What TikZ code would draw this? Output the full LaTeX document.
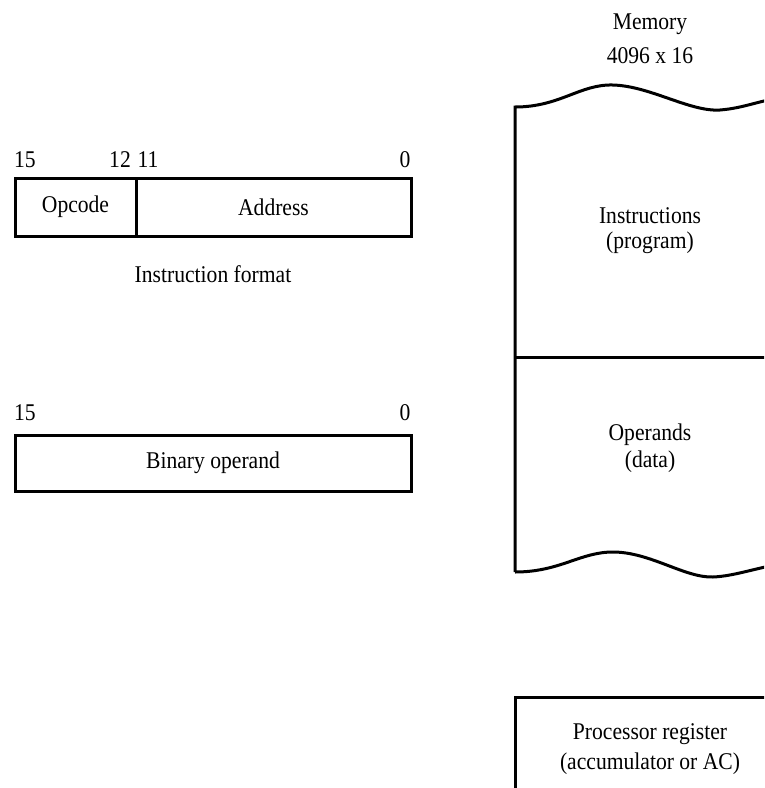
\documentclass[tikz,border=0pt]{standalone}
\usepackage{fontspec}
\setmainfont{Liberation Serif}[FakeStretch=0.9]
\begin{document}
\begin{tikzpicture}[x=1pt,y=-1pt,line width=3pt,
  every node/.style={font=\fontsize{24}{28}\selectfont, inner sep=0pt, outer sep=0pt},
  field/.style={draw, line width=3pt},
  bitnum/.style={anchor=center}]
\useasboundingbox (0,0) rectangle (764,788);
\begin{scope}
\clip (0,0) rectangle (764,788);
% instruction format
\node[field, minimum width=121pt, minimum height=58pt] (op) at (75.5,207) {Opcode};
\node[field, minimum width=275pt, minimum height=58pt] (ad) at (273.5,207) {Address};
\node[bitnum] (b15) at (25,160) {15};
\node[bitnum] (b12) at (120,160) {12};
\node[bitnum] (b11) at (148,160) {11};
\node[bitnum] (b0) at (405,160) {0};
\node (ifmt) at (213,274) {Instruction format};
% binary operand
\node[field, minimum width=396pt, minimum height=56pt] (bin) at (213,463) {Binary operand};
\node[bitnum] (c15) at (25,413) {15};
\node[bitnum] (c0) at (405,413) {0};
% memory
\node (mem) at (650,24) {Memory};
\node (memsz) at (650,56) {4096 x 16};
\coordinate (mtl) at (515,107);
\coordinate (mbl) at (515,572);
\draw (mbl) -- (mtl)
  .. controls (560,107) and (580,84) .. (613,85)
  .. controls (650,86) and (690,112) .. (720,110)
  .. controls (745,108) and (760,100) .. (790,96);
\draw (mbl)
  .. controls (560,572) and (580,552) .. (613,552)
  .. controls (650,552) and (685,578) .. (713,577)
  .. controls (735,576) and (755,568) .. (790,562);
\coordinate (dl) at (515,357);
\coordinate (dr) at (790,357);
\draw (dl) -- (dr);
\node (instr) at (650,216) {Instructions};
\node (prog) at (650,243) {(program)};
\node (opnd) at (650,435) {Operands};
\node (data) at (650,462) {(data)};
% processor register
\node[draw, line width=3pt, minimum width=300pt, minimum height=150pt, anchor=north west] (reg) at (515,697) {};
\node (preg) at (650,734) {Processor register};
\node (acc) at (650,764) {(accumulator or AC)};
\end{scope}
\end{tikzpicture}
\end{document}
